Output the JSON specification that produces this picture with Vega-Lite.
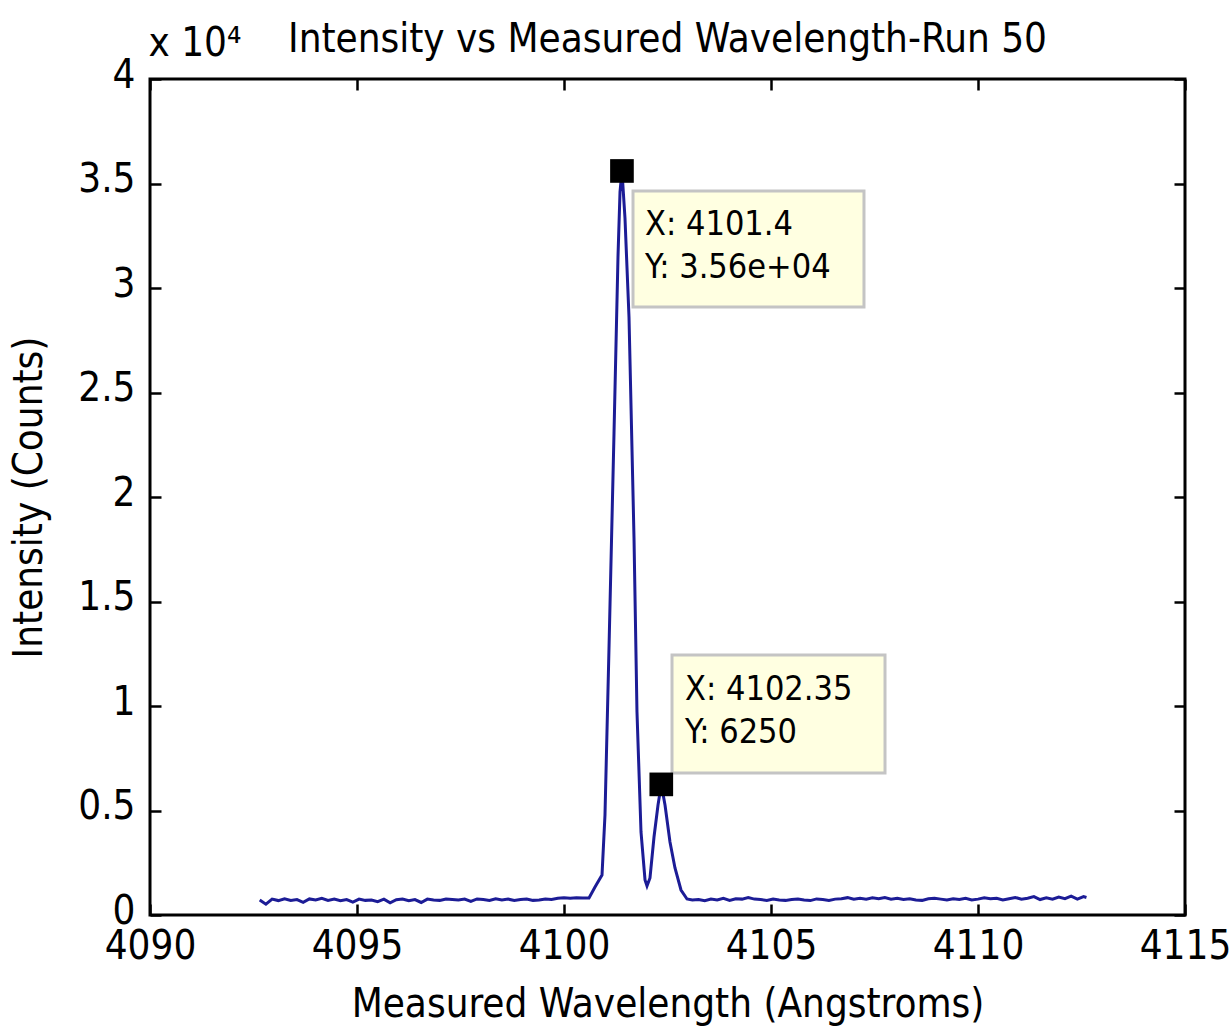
{
  "$schema": "https://vega.github.io/schema/vega-lite/v6.json",
  "width": 1035,
  "height": 836,
  "autosize": "none",
  "padding": {"left": 150, "top": 79, "right": 47, "bottom": 113},
  "background": "white",
  "config": {
    "view": {"stroke": "black", "strokeWidth": 3},
    "font": "DejaVu Sans Condensed, Liberation Sans, Arial, sans-serif",
    "axis": {
      "grid": false,
      "domain": false,
      "tickColor": "black",
      "tickWidth": 2.5,
      "tickSize": -11,
      "labelColor": "black",
      "labelFont": "DejaVu Sans Condensed, Liberation Sans, Arial, sans-serif",
      "labelFontSize": 40,
      "labelOverlap": false,
      "labelFlush": false,
      "labelBound": false,
      "titleColor": "black",
      "titleFont": "DejaVu Sans Condensed, Liberation Sans, Arial, sans-serif",
      "titleFontSize": 40,
      "titleFontWeight": "normal"
    }
  },
  "title": {
    "text": "Intensity vs Measured Wavelength-Run 50",
    "font": "DejaVu Sans Condensed, Liberation Sans, Arial, sans-serif",
    "fontSize": 40,
    "fontWeight": "normal",
    "color": "black",
    "anchor": "middle",
    "frame": "group",
    "offset": -37
  },
  "datasets": {
    "spectrum": [
      {"wl": 4092.65, "counts": 720}, {"wl": 4092.80, "counts": 520}, {"wl": 4092.95, "counts": 760},
      {"wl": 4093.10, "counts": 690}, {"wl": 4093.25, "counts": 780}, {"wl": 4093.40, "counts": 700},
      {"wl": 4093.55, "counts": 740}, {"wl": 4093.70, "counts": 610}, {"wl": 4093.85, "counts": 770},
      {"wl": 4094.00, "counts": 720}, {"wl": 4094.15, "counts": 800}, {"wl": 4094.30, "counts": 700},
      {"wl": 4094.45, "counts": 760}, {"wl": 4094.60, "counts": 680}, {"wl": 4094.75, "counts": 740},
      {"wl": 4094.90, "counts": 620}, {"wl": 4095.05, "counts": 760}, {"wl": 4095.20, "counts": 700},
      {"wl": 4095.35, "counts": 720}, {"wl": 4095.50, "counts": 640}, {"wl": 4095.65, "counts": 760},
      {"wl": 4095.80, "counts": 580}, {"wl": 4095.95, "counts": 730}, {"wl": 4096.10, "counts": 760},
      {"wl": 4096.25, "counts": 680}, {"wl": 4096.40, "counts": 740}, {"wl": 4096.55, "counts": 600},
      {"wl": 4096.70, "counts": 760}, {"wl": 4096.85, "counts": 720}, {"wl": 4097.00, "counts": 700},
      {"wl": 4097.15, "counts": 760}, {"wl": 4097.30, "counts": 740}, {"wl": 4097.45, "counts": 720},
      {"wl": 4097.60, "counts": 760}, {"wl": 4097.75, "counts": 650}, {"wl": 4097.90, "counts": 770},
      {"wl": 4098.05, "counts": 740}, {"wl": 4098.20, "counts": 700}, {"wl": 4098.35, "counts": 780},
      {"wl": 4098.50, "counts": 720}, {"wl": 4098.65, "counts": 760}, {"wl": 4098.80, "counts": 690},
      {"wl": 4098.95, "counts": 740}, {"wl": 4099.10, "counts": 760}, {"wl": 4099.25, "counts": 700},
      {"wl": 4099.40, "counts": 720}, {"wl": 4099.55, "counts": 770}, {"wl": 4099.70, "counts": 740},
      {"wl": 4099.85, "counts": 800}, {"wl": 4100.00, "counts": 820}, {"wl": 4100.15, "counts": 800},
      {"wl": 4100.30, "counts": 830}, {"wl": 4100.45, "counts": 810},
      {"wl": 4100.604, "counts": 813}, {"wl": 4100.749, "counts": 1340}, {"wl": 4100.918, "counts": 1914},
      {"wl": 4100.990, "counts": 4785}, {"wl": 4101.087, "counts": 12776}, {"wl": 4101.208, "counts": 23064},
      {"wl": 4101.304, "counts": 31486}, {"wl": 4101.353, "counts": 34596}, {"wl": 4101.400, "counts": 35600},
      {"wl": 4101.473, "counts": 33351}, {"wl": 4101.570, "counts": 28614}, {"wl": 4101.691, "counts": 18039},
      {"wl": 4101.763, "counts": 9714}, {"wl": 4101.860, "counts": 3972}, {"wl": 4101.957, "counts": 1675},
      {"wl": 4102.005, "counts": 1388}, {"wl": 4102.077, "counts": 1770}, {"wl": 4102.174, "counts": 3732},
      {"wl": 4102.271, "counts": 5264}, {"wl": 4102.350, "counts": 6250}, {"wl": 4102.440, "counts": 5264},
      {"wl": 4102.560, "counts": 3493}, {"wl": 4102.681, "counts": 2249}, {"wl": 4102.826, "counts": 1196},
      {"wl": 4102.971, "counts": 766},
      {"wl": 4103.10, "counts": 720}, {"wl": 4103.25, "counts": 740}, {"wl": 4103.40, "counts": 680},
      {"wl": 4103.55, "counts": 760}, {"wl": 4103.70, "counts": 720}, {"wl": 4103.85, "counts": 800},
      {"wl": 4104.00, "counts": 700}, {"wl": 4104.15, "counts": 780}, {"wl": 4104.30, "counts": 760},
      {"wl": 4104.45, "counts": 830}, {"wl": 4104.60, "counts": 760}, {"wl": 4104.75, "counts": 740},
      {"wl": 4104.90, "counts": 700}, {"wl": 4105.05, "counts": 760}, {"wl": 4105.20, "counts": 720},
      {"wl": 4105.35, "counts": 700}, {"wl": 4105.50, "counts": 740}, {"wl": 4105.65, "counts": 760},
      {"wl": 4105.80, "counts": 720}, {"wl": 4105.95, "counts": 690}, {"wl": 4106.10, "counts": 770},
      {"wl": 4106.25, "counts": 740}, {"wl": 4106.40, "counts": 700}, {"wl": 4106.55, "counts": 760},
      {"wl": 4106.70, "counts": 780}, {"wl": 4106.85, "counts": 830}, {"wl": 4107.00, "counts": 760},
      {"wl": 4107.15, "counts": 800}, {"wl": 4107.30, "counts": 760}, {"wl": 4107.45, "counts": 820},
      {"wl": 4107.60, "counts": 780}, {"wl": 4107.75, "counts": 840}, {"wl": 4107.90, "counts": 760},
      {"wl": 4108.05, "counts": 800}, {"wl": 4108.20, "counts": 740}, {"wl": 4108.35, "counts": 780},
      {"wl": 4108.50, "counts": 720}, {"wl": 4108.65, "counts": 700}, {"wl": 4108.80, "counts": 780},
      {"wl": 4108.95, "counts": 800}, {"wl": 4109.10, "counts": 760}, {"wl": 4109.25, "counts": 720},
      {"wl": 4109.40, "counts": 780}, {"wl": 4109.55, "counts": 740}, {"wl": 4109.70, "counts": 800},
      {"wl": 4109.85, "counts": 720}, {"wl": 4110.00, "counts": 760}, {"wl": 4110.15, "counts": 820},
      {"wl": 4110.30, "counts": 780}, {"wl": 4110.45, "counts": 800}, {"wl": 4110.60, "counts": 720},
      {"wl": 4110.75, "counts": 780}, {"wl": 4110.90, "counts": 840}, {"wl": 4111.05, "counts": 760},
      {"wl": 4111.20, "counts": 800}, {"wl": 4111.35, "counts": 880}, {"wl": 4111.50, "counts": 740},
      {"wl": 4111.65, "counts": 820}, {"wl": 4111.80, "counts": 760}, {"wl": 4111.95, "counts": 860},
      {"wl": 4112.10, "counts": 780}, {"wl": 4112.25, "counts": 900}, {"wl": 4112.40, "counts": 760},
      {"wl": 4112.55, "counts": 880}, {"wl": 4112.62, "counts": 840}
    ],
    "tips": [
      {"wl": 4101.40, "counts": 35600},
      {"wl": 4102.35, "counts": 6250}
    ],
    "boxes": [
      {"x1": 4101.667, "x2": 4107.246, "y1": 34643, "y2": 29093},
      {"x1": 4102.609, "x2": 4107.754, "y1": 12441, "y2": 6795}
    ],
    "labels": [
      {"lx": 4101.957, "ly": 32538, "label": "X: 4101.4"},
      {"lx": 4101.957, "ly": 30480, "label": "Y: 3.56e+04"},
      {"lx": 4102.923, "ly": 10288, "label": "X: 4102.35"},
      {"lx": 4102.923, "ly": 8230, "label": "Y: 6250"}
    ]
  },
  "layer": [
    {
      "data": {"name": "spectrum"},
      "mark": {"type": "line", "color": "#1c1c96", "strokeWidth": 3},
      "encoding": {
        "x": {
          "field": "wl", "type": "quantitative",
          "scale": {"domain": [4090, 4115], "nice": false, "zero": false},
          "axis": {
            "orient": "bottom",
            "values": [4090, 4095, 4100, 4105, 4110, 4115],
            "format": "d",
            "labelPadding": 22,
            "title": "Measured Wavelength (Angstroms)",
            "titlePadding": 18
          }
        },
        "y": {
          "field": "counts", "type": "quantitative",
          "scale": {"domain": [0, 40000], "nice": false},
          "axis": {
            "orient": "left",
            "values": [0, 5000, 10000, 15000, 20000, 25000, 30000, 35000, 40000],
            "labelExpr": "datum.value / 10000 + ''",
            "labelPadding": 26,
            "labelOffset": -4,
            "title": "Intensity (Counts)",
            "titleFontSize": 40,
            "titlePadding": 28
          }
        }
      }
    },
    {
      "data": {"name": "boxes"},
      "mark": {"type": "rect", "fill": "#ffffe1", "stroke": "#c4c4c4", "strokeWidth": 3},
      "encoding": {
        "x": {
          "field": "x1", "type": "quantitative",
          "scale": {"domain": [4090, 4115], "nice": false, "zero": false},
          "axis": {
            "orient": "top",
            "values": [4090, 4095, 4100, 4105, 4110, 4115],
            "labels": false,
            "title": "x 10⁴",
            "titleFontSize": 40,
            "titleAnchor": "start",
            "titleAlign": "left",
            "titleAngle": 0,
            "titleBaseline": "alphabetic",
            "titleX": -2,
            "titleY": -24
          }
        },
        "x2": {"field": "x2"},
        "y": {
          "field": "y1", "type": "quantitative",
          "scale": {"domain": [0, 40000], "nice": false},
          "axis": {
            "orient": "right",
            "values": [0, 5000, 10000, 15000, 20000, 25000, 30000, 35000, 40000],
            "labels": false,
            "title": null
          }
        },
        "y2": {"field": "y2"}
      }
    },
    {
      "data": {"name": "tips"},
      "mark": {"type": "point", "shape": "square", "filled": true, "color": "black", "size": 560, "opacity": 1},
      "encoding": {
        "x": {"field": "wl", "type": "quantitative", "axis": null},
        "y": {"field": "counts", "type": "quantitative", "axis": null}
      }
    },
    {
      "data": {"name": "labels"},
      "mark": {"type": "text", "align": "left", "baseline": "alphabetic", "font": "DejaVu Sans Condensed, Liberation Sans, Arial, sans-serif", "fontSize": 34, "color": "black"},
      "encoding": {
        "x": {"field": "lx", "type": "quantitative", "axis": null},
        "y": {"field": "ly", "type": "quantitative", "axis": null},
        "text": {"field": "label"}
      }
    }
  ],
  "resolve": {"axis": {"x": "independent", "y": "independent"}}
}
